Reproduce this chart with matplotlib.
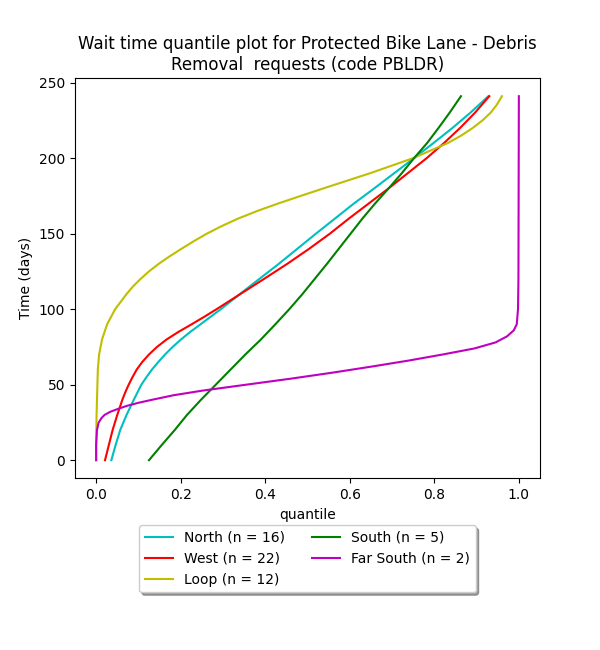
import matplotlib
matplotlib.use("Agg")
import matplotlib.pyplot as plt

# Wait time (days) vs quantile
north_days = [0, 10, 20, 30, 40, 50, 55, 60, 65, 70, 75, 80, 85, 90, 95, 100, 110, 120, 130, 140, 150, 160, 170,
              180, 190, 200, 210, 220, 230, 241]
north_q = [0.036, 0.046, 0.057, 0.072, 0.089, 0.107, 0.119, 0.132, 0.147, 0.163, 0.181, 0.201, 0.223, 0.247, 0.271,
           0.295, 0.340, 0.386, 0.432, 0.476, 0.520, 0.565, 0.610, 0.658, 0.705, 0.752, 0.798, 0.843, 0.885, 0.928]

west_days = [0, 10, 20, 30, 40, 45, 50, 55, 60, 65, 70, 75, 80, 85, 90, 95, 100, 110, 120, 130, 140, 150, 160, 170,
             180, 190, 200, 210, 220, 230, 241]
west_q = [0.021, 0.030, 0.039, 0.050, 0.062, 0.069, 0.077, 0.086, 0.096, 0.109, 0.125, 0.144, 0.167, 0.195, 0.226,
          0.256, 0.285, 0.341, 0.397, 0.452, 0.504, 0.553, 0.598, 0.645, 0.692, 0.737, 0.782, 0.823, 0.861, 0.896,
          0.930]

loop_days = [0, 10, 20, 30, 40, 50, 60, 70, 80, 90, 100, 110, 115, 120, 125, 130, 135, 140, 145, 150, 155, 160, 165,
             170, 175, 180, 190, 200, 210, 215, 220, 225, 230, 235, 241]
loop_q = [0.0, 0.0, 0.0005, 0.001, 0.002, 0.003, 0.004, 0.007, 0.014, 0.026, 0.045, 0.072, 0.087, 0.105, 0.125,
          0.148, 0.174, 0.202, 0.231, 0.262, 0.297, 0.336, 0.381, 0.431, 0.484, 0.538, 0.648, 0.750, 0.832, 0.864,
          0.891, 0.914, 0.933, 0.947, 0.960]

south_days = [0, 10, 20, 30, 40, 50, 60, 70, 80, 90, 100, 110, 120, 130, 140, 150, 160, 170, 180, 190, 200, 210, 220, 230, 241]
south_q = [0.125, 0.155, 0.186, 0.215, 0.248, 0.283, 0.318, 0.353, 0.390, 0.424, 0.457, 0.488, 0.517, 0.546, 0.574,
           0.602, 0.630, 0.660, 0.692, 0.723, 0.752, 0.783, 0.810, 0.836, 0.863]

farsouth_days = [0, 10, 20, 25, 28, 30, 32, 34, 36, 38, 40, 43, 46, 50, 54, 58, 62, 66, 70, 74, 78, 82, 86, 90, 100, 120, 241]
farsouth_q = [0.0, 0.0, 0.002, 0.006, 0.013, 0.020, 0.033, 0.052, 0.073, 0.100, 0.132, 0.183, 0.250, 0.355, 0.461,
              0.560, 0.652, 0.740, 0.820, 0.895, 0.945, 0.972, 0.988, 0.995, 0.998, 0.999, 1.0]

labels = ["North (n = 16)", "West (n = 22)", "Loop (n = 12)", "South (n = 5)", "Far South (n = 2)"]
colors = ["c", "r", "y", "g", "m"]

series = [(north_q, north_days), (west_q, west_days), (loop_q, loop_days),
          (south_q, south_days), (farsouth_q, farsouth_days)]

fig, ax = plt.subplots(figsize=(6, 6.5), dpi=100)
for (q, d), lab, col in zip(series, labels, colors):
    ax.plot(q, d, color=col, label=lab)

ax.set_title("Wait time quantile plot for Protected Bike Lane - Debris\nRemoval  requests (code PBLDR)")
ax.set_xlabel("quantile")
ax.set_ylabel("Time (days)")

box = ax.get_position()
ax.set_position([box.x0, box.y0 + box.height * 0.2, box.width, box.height * 0.8])
ax.legend(loc="upper center", bbox_to_anchor=(0.5, -0.1), fancybox=True, shadow=True, ncol=2)

fig.savefig("out.png", dpi=100)
